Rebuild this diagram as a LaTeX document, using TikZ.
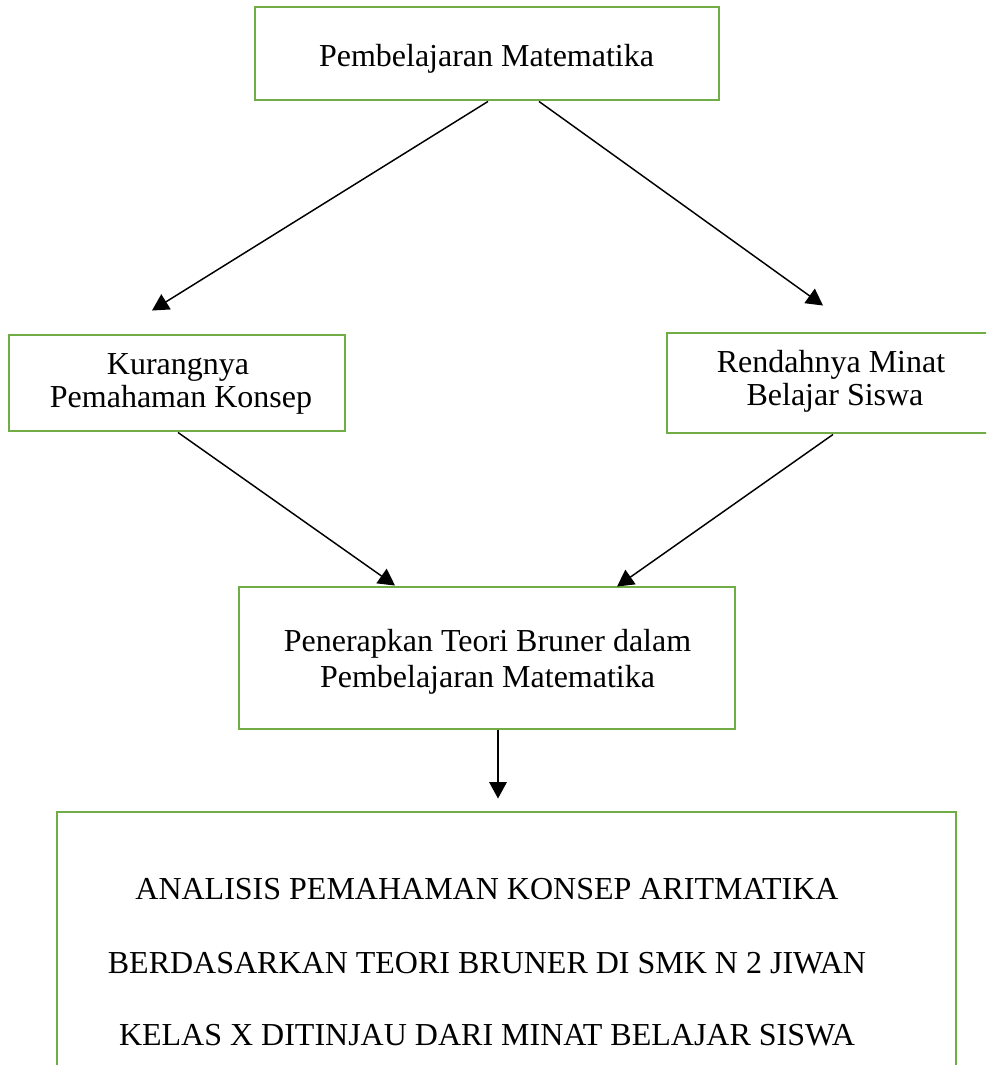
\documentclass[tikz,border=0pt]{standalone}
\usepackage{fontspec}
\setmainfont{Liberation Serif}
\usetikzlibrary{arrows.meta,calc,fit}
\definecolor{boxgreen}{HTML}{70AD47}
\tikzset{
  box/.style={draw=boxgreen,line width=1.1pt,inner sep=0pt,fill=none},
  txt/.style={anchor=base,inner sep=0pt,font=\fontsize{12pt}{14pt}\selectfont},
  arr/.style={draw=black,line width=0.55pt,-{Triangle[length=6.2pt,width=6.6pt]}}
}
\begin{document}
\begin{tikzpicture}[x=0.375pt,y=-0.375pt]
\clip (0,0) rectangle (986,1065);
\useasboundingbox (0,0) rectangle (986,1065);
% boxes
\node[box,fit={(255,7) (719,100)}] (top) {};
\node[box,fit={(9,335) (345,431)}] (kur) {};
\node[box,fit={(667,333) (995,433)}] (ren) {};
\node[box,fit={(239,587) (735,729)}] (mid) {};
\node[box,fit={(57,812) (956,1120)}] (bot) {};
% texts
\node[txt] (t1) at (486.5,67) {Pembelajaran Matematika};
\node[txt] (k1) at (178,375) {Kurangnya};
\node[txt] (k2) at (181,407) {Pemahaman Konsep};
\node[txt] (r1) at (831,373) {Rendahnya Minat};
\node[txt] (r2) at (835,406) {Belajar Siswa};
\node[txt] (m1) at (487.5,651) {Penerapkan Teori Bruner dalam};
\node[txt] (m2) at (487.5,687) {Pembelajaran Matematika};
\node[txt] (b1) at (487,899) {ANALISIS PEMAHAMAN KONSEP ARITMATIKA};
\node[txt] (b2) at (487,973) {BERDASARKAN TEORI BRUNER DI SMK N 2 JIWAN};
\node[txt] (b3) at (487,1045) {KELAS X DITINJAU DARI MINAT BELAJAR SISWA};
% connectors
\draw[arr] ($(top.south)+(1,0)$) -- ($(kur.north)+(-25,-23)$);
\draw[arr] ($(top.south)+(52,0)$) -- ($(ren.north)+(-8,-26)$);
\draw[arr] ($(kur.south)+(1,0)$) -- ($(mid.north)+(-92,0)$);
\draw[arr] ($(ren.south)+(2,0)$) -- ($(mid.north)+(130,1)$);
\draw[arr] ($(mid.south)+(11,0)$) -- ($(bot.north)+(-8.5,-12)$);
\end{tikzpicture}
\end{document}
